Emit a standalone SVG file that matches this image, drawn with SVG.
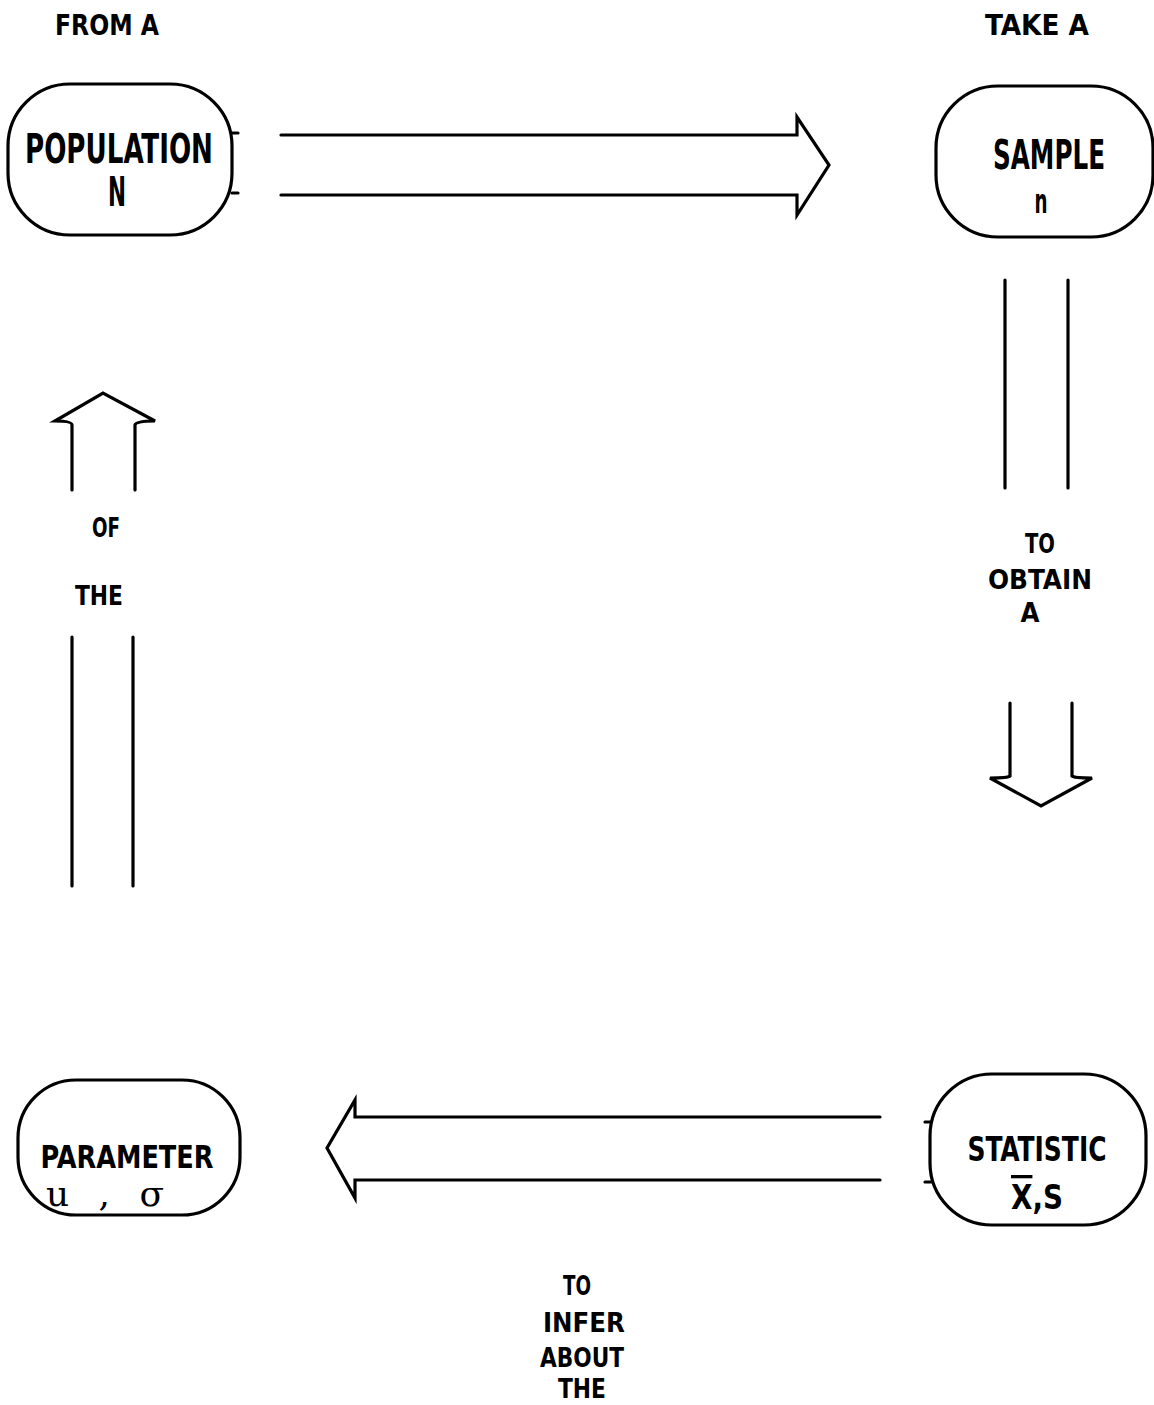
<svg xmlns="http://www.w3.org/2000/svg" width="1154" height="1405" viewBox="0 0 1154 1405">
<style>
.bg{fill:#fff}
.node{fill:none;stroke:#000;stroke-width:3.2}
.conn{fill:none;stroke:#000;stroke-width:3.2;stroke-linejoin:miter;stroke-linecap:round}
.t{font-family:'DejaVu Sans Condensed','DejaVu Sans',sans-serif;font-stretch:condensed;font-weight:bold;fill:#000;text-anchor:middle}
.m{font-family:'DejaVu Serif','Liberation Serif',serif;fill:#000;text-anchor:middle}
</style>
<rect class="bg" x="0" y="0" width="1154" height="1405"/>
<g id="labels">
<text class="t" x="107" y="35" font-size="29" textLength="104" lengthAdjust="spacingAndGlyphs">FROM A</text>
<text class="t" x="1037" y="35" font-size="29" textLength="104" lengthAdjust="spacingAndGlyphs">TAKE A</text>
<text class="t" x="106" y="537" font-size="27" textLength="28" lengthAdjust="spacingAndGlyphs">OF</text>
<text class="t" x="99" y="605" font-size="27" textLength="48" lengthAdjust="spacingAndGlyphs">THE</text>
<text class="t" x="1040" y="553" font-size="27" textLength="30" lengthAdjust="spacingAndGlyphs">TO</text>
<text class="t" x="1040" y="589" font-size="27" textLength="104" lengthAdjust="spacingAndGlyphs">OBTAIN</text>
<text class="t" x="1030" y="622" font-size="27" textLength="19" lengthAdjust="spacingAndGlyphs">A</text>
<text class="t" x="577" y="1295" font-size="26" textLength="28" lengthAdjust="spacingAndGlyphs">TO</text>
<text class="t" x="584" y="1332" font-size="26" textLength="82" lengthAdjust="spacingAndGlyphs">INFER</text>
<text class="t" x="582" y="1367" font-size="26" textLength="84" lengthAdjust="spacingAndGlyphs">ABOUT</text>
<text class="t" x="582" y="1398" font-size="26" textLength="48" lengthAdjust="spacingAndGlyphs">THE</text>
</g>
<g id="population">
<rect class="node" x="8" y="84" width="224" height="151" rx="62" ry="62"/>
<text class="t" x="119" y="163" font-size="40" textLength="188" lengthAdjust="spacingAndGlyphs">POPULATION</text>
<text class="t" x="117" y="206" font-size="40" textLength="18" lengthAdjust="spacingAndGlyphs">N</text>
</g>
<g id="sample">
<rect class="node" x="936" y="86" width="217" height="151" rx="62" ry="62"/>
<text class="t" x="1049" y="169" font-size="40" textLength="112" lengthAdjust="spacingAndGlyphs">SAMPLE</text>
<text class="t" x="1041" y="213" font-size="34" textLength="13" lengthAdjust="spacingAndGlyphs">n</text>
</g>
<g id="parameter">
<rect class="node" x="18" y="1080" width="222" height="135" rx="58" ry="58"/>
<text class="t" x="127" y="1168" font-size="32" textLength="173" lengthAdjust="spacingAndGlyphs">PARAMETER</text>
<text class="m" x="105" y="1206" font-size="36" textLength="118" lengthAdjust="spacing">u , σ</text>
</g>
<g id="statistic">
<rect class="node" x="930" y="1074" width="216" height="151" rx="62" ry="62"/>
<text class="t" x="1037" y="1161" font-size="34" textLength="139" lengthAdjust="spacingAndGlyphs">STATISTIC</text>
<text class="t" x="1037" y="1209" font-size="33" textLength="52" lengthAdjust="spacingAndGlyphs"><tspan text-decoration="overline">X</tspan>,S</text>
</g>
<g id="connectors">
<path class="conn" d="M232,133 H238 M232,193 H238"/>
<path class="conn" d="M281,135 H797 V117 L829,165 L797,215 V195 H281"/>
<path class="conn" d="M1005,280 V488 M1068,280 V488"/>
<path class="conn" d="M1010,703 V776 Q1008,778 990,778 L1041,806 L1092,778 Q1074,778 1072,776 V703"/>
<path class="conn" d="M72,490 V425 Q72,421 55,421 L103,393 L155,421 Q135,421 135,425 V490"/>
<path class="conn" d="M72,637 V886 M133,637 V886"/>
<path class="conn" d="M880,1117 H355 V1100 L327,1148 L355,1198 V1180 H880"/>
<path class="conn" d="M925,1122 H931 M925,1182 H931"/>
</g>
</svg>
